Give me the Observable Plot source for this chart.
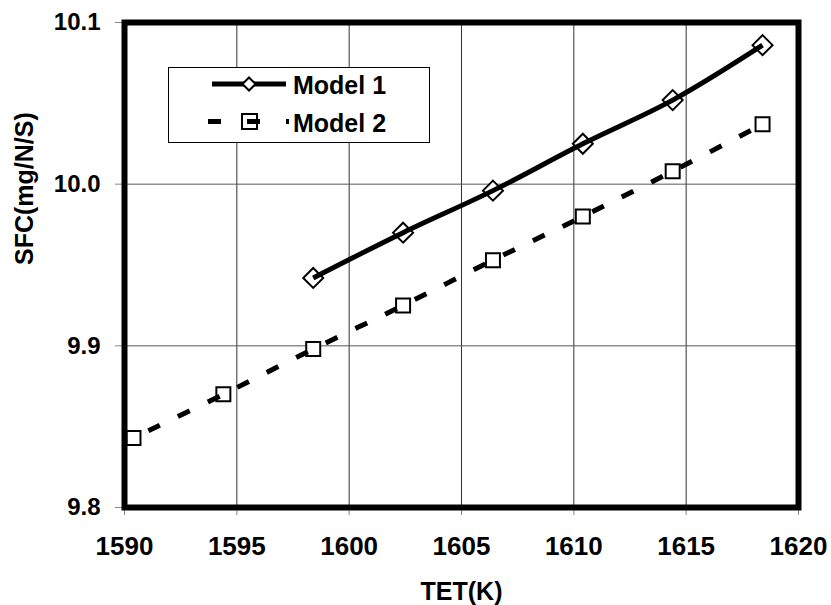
<!DOCTYPE html>
<html>
<head>
<meta charset="utf-8">
<script src="https://cdn.jsdelivr.net/npm/d3@7"></script>
<script src="https://cdn.jsdelivr.net/npm/@observablehq/plot@0.6"></script>
<style>
  html, body { margin: 0; padding: 0; background: #fff; }
  #wrap { position: relative; width: 831px; height: 605px; }
  #legend { position: absolute; left: 0; top: 0; }
</style>
</head>
<body>
<div id="wrap"></div>
<script>
// ---- data ----
const tetModel1 = [1598.4, 1602.4, 1606.4, 1610.4, 1614.4, 1618.4];
const sfcModel1 = [9.942, 9.970, 9.996, 10.025, 10.052, 10.086];
const tetModel2 = [1590.4, 1594.4, 1598.4, 1602.4, 1606.4, 1610.4, 1614.4, 1618.4];
const sfcModel2 = [9.843, 9.870, 9.898, 9.925, 9.953, 9.980, 10.008, 10.037];
const xTicks = [1590, 1595, 1600, 1605, 1610, 1615, 1620];
const yTicks = [9.8, 9.9, 10.0, 10.1];
const xGrid = [1595, 1600, 1605, 1610, 1615];
const yGrid = [9.9, 10.0];
const seriesNames = ["Model 1", "Model 2"];
const xLabel = "TET(K)";
const yLabel = "SFC(mg/N/S)";

const m1 = tetModel1.map((x, i) => ({x, y: sfcModel1[i]}));
const m2 = tetModel2.map((x, i) => ({x, y: sfcModel2[i]}));

const FONT = "'Liberation Sans', Arial, Helvetica, sans-serif";

const chart = Plot.plot({
  width: 831,
  height: 605,
  marginLeft: 124,
  marginRight: 33,
  marginTop: 22,
  marginBottom: 98,
  style: {fontFamily: FONT, fontWeight: "bold", background: "white", color: "black", overflow: "visible"},
  x: {domain: [1590, 1620]},
  y: {domain: [9.8, 10.1]},
  marks: [
    Plot.gridX(xGrid, {stroke: "#333", strokeOpacity: 1, strokeWidth: 1}),
    Plot.gridY(yGrid, {stroke: "#555", strokeOpacity: 1, strokeWidth: 1}),
    Plot.axisX(xTicks, {tickSize: 8, tickPadding: 21, stroke: "#888", fill: "black",
      fontSize: 26, fontWeight: "bold", tickFormat: d => String(d), label: null}),
    Plot.axisY(yTicks, {tickSize: 9, tickPadding: 15, stroke: "#888", fill: "black",
      fontSize: 24, fontWeight: "bold", tickFormat: d3.format(".1f"), label: null}),
    Plot.text([xLabel], {frameAnchor: "bottom", dy: 84, fontSize: 25, fontWeight: "bold", fill: "black", lineAnchor: "middle"}),
    Plot.text([yLabel], {frameAnchor: "left", dx: -100, rotate: -90, fontSize: 25, fontWeight: "bold", fill: "black", lineAnchor: "middle"}),
    Plot.dot(m2, {x: "x", y: "y", symbol: "square", r: 7.9, fill: "white", stroke: "black", strokeWidth: 2}),
    Plot.dot(m1, {x: "x", y: "y", symbol: "diamond2", r: 9, fill: "white", stroke: "black", strokeWidth: 2}),
    Plot.line(m2, {x: "x", y: "y", curve: "catmull-rom", stroke: "black", strokeWidth: 5,
      strokeDasharray: "13,20", strokeDashoffset: 16.5, strokeLinecap: "butt"}),
    Plot.line(m1, {x: "x", y: "y", curve: "catmull-rom", stroke: "black", strokeWidth: 5, strokeLinecap: "butt"}),
    Plot.frame({stroke: "black", strokeWidth: 6})
  ]
});

const wrap = document.getElementById("wrap");
wrap.appendChild(chart);

// ---- legend (overlay) ----
const lg = d3.select(wrap).append("svg")
  .attr("id", "legend").attr("width", 831).attr("height", 605)
  .style("font-family", FONT).style("font-weight", "bold");
lg.append("rect").attr("x", 168.5).attr("y", 67.5).attr("width", 261).attr("height", 75)
  .attr("fill", "white").attr("stroke", "black").attr("stroke-width", 1);
// Model 1 entry
lg.append("line").attr("x1", 212).attr("x2", 286).attr("y1", 84).attr("y2", 84)
  .attr("stroke", "black").attr("stroke-width", 5);
lg.append("path").attr("transform", "translate(249,84)")
  .attr("d", d3.symbol(d3.symbolDiamond2, 110)())
  .attr("fill", "white").attr("stroke", "black").attr("stroke-width", 2);
// Model 2 entry
lg.append("rect").attr("x", 242).attr("y", 114).attr("width", 15).attr("height", 15)
  .attr("fill", "white").attr("stroke", "black").attr("stroke-width", 2);
lg.append("line").attr("x1", 208).attr("x2", 289).attr("y1", 121.5).attr("y2", 121.5)
  .attr("stroke", "black").attr("stroke-width", 5).attr("stroke-dasharray", "13,26");
lg.selectAll("text.lab").data(seriesNames).join("text")
  .attr("x", 293).attr("y", (d, i) => 94 + i * 38)
  .attr("font-size", 25).attr("fill", "black").text(d => d);
</script>
</body>
</html>
